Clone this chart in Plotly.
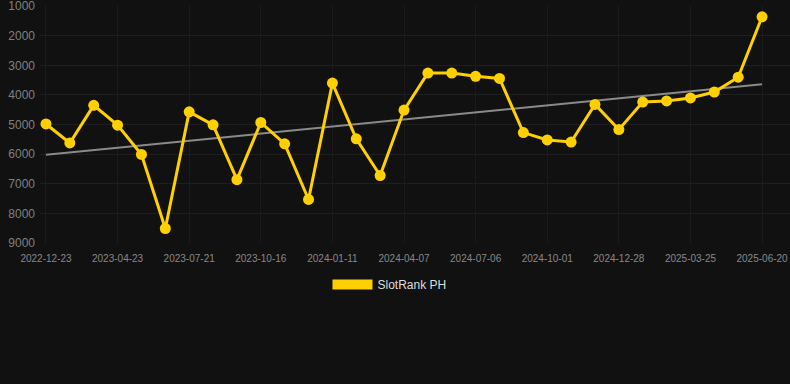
import numpy as np
import plotly.graph_objects as go

dates = ["2022-12-23", "2023-02-01", "2023-03-13", "2023-04-23", "2023-05-23", "2023-06-21",
         "2023-07-21", "2023-08-19", "2023-09-17", "2023-10-16", "2023-11-14", "2023-12-13",
         "2024-01-11", "2024-02-09", "2024-03-09", "2024-04-07", "2024-05-07", "2024-06-06",
         "2024-07-06", "2024-08-04", "2024-09-02", "2024-10-01", "2024-10-30", "2024-11-29",
         "2024-12-28", "2025-01-26", "2025-02-24", "2025-03-25", "2025-04-23", "2025-05-22",
         "2025-06-20"]
rank = [4980, 5620, 4350, 5020, 6010, 8510, 4570, 5010, 6860, 4930,
        5650, 7530, 3600, 5480, 6720, 4510, 3260, 3260, 3370, 3440,
        5270, 5520, 5590, 4320, 5170, 4240, 4200, 4100, 3900, 3400, 1360]
tick_labels = dates[::3]
y_ticks = [1000, 2000, 3000, 4000, 5000, 6000, 7000, 8000, 9000]
series_name = "SlotRank PH"

idx = np.arange(len(rank))
slope, intercept = np.polyfit(idx, rank, 1)
trend = slope * idx + intercept

YELLOW = "#FFD000"
fig = go.Figure()
fig.add_trace(go.Scatter(
    x=dates, y=trend, mode="lines", line=dict(color="#8a8a8a", width=2),
    showlegend=False, hoverinfo="skip"))
fig.add_trace(go.Scatter(
    x=dates, y=rank, mode="lines+markers",
    line=dict(color=YELLOW, width=3),
    marker=dict(color=YELLOW, size=11),
    cliponaxis=False, showlegend=False, name=series_name))
fig.add_trace(go.Scatter(
    x=[None], y=[None], mode="lines", line=dict(color=YELLOW, width=11),
    name=series_name, showlegend=True))

fig.update_layout(
    width=790, height=384,
    paper_bgcolor="#111111", plot_bgcolor="#111111",
    margin=dict(l=40, r=0, t=6, b=141),
    font=dict(family="Liberation Sans, Arial, sans-serif", color="#888888"),
    showlegend=True,
    legend=dict(orientation="h", xref="container", x=0.493, xanchor="center",
                yref="container", y=0.259, yanchor="middle",
                font=dict(size=12, color="#dddddd"), itemwidth=40,
                bgcolor="rgba(0,0,0,0)"),
    xaxis=dict(type="category", range=[-0.25, 31.17],
               tickmode="array", tickvals=tick_labels, ticktext=tick_labels,
               showgrid=True, gridcolor="#1b1b1b", gridwidth=1,
               tickfont=dict(size=10, color="#888888"), ticks="", zeroline=False,
               showline=False, ticklabelstandoff=8, ticklabeloverflow="allow"),
    yaxis=dict(range=[9000, 995], tickvals=y_ticks, ticktext=[str(v) for v in y_ticks],
               showgrid=True, gridcolor="#1e1e1e", gridwidth=1,
               tickfont=dict(size=12, color="#808080"), ticks="", zeroline=False,
               showline=False, ticklabeloverflow="allow", ticklabelstandoff=4),
)
fig.write_html("out.html", config={"displayModeBar": False},
               post_script="document.body.style.margin='0';document.body.style.background='#111111';")
